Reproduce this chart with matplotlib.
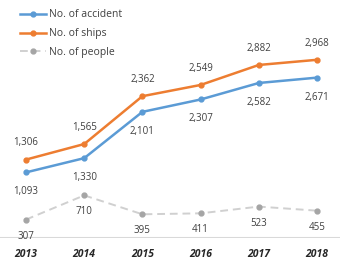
import matplotlib
matplotlib.use("Agg")
from matplotlib import pyplot as plt

years = ["2013", "2014", "2015", "2016", "2017", "2018"]
accidents = [1093, 1330, 2101, 2307, 2582, 2671]
ships = [1306, 1565, 2362, 2549, 2882, 2968]
people = [307, 710, 395, 411, 523, 455]

plt.rcParams["font.family"] = ["Open Sans", "DejaVu Sans"]

fig = plt.figure(figsize=(3.4, 2.64), dpi=100)
ax = fig.add_axes([0, 26 / 264, 1, 238 / 264])

x = list(range(len(years)))
ax.plot(x, ships, color="#ED7D31", lw=1.8, marker="o", ms=3.5, label="No. of ships", zorder=3)
ax.plot(x, accidents, color="#5B9BD5", lw=1.8, marker="o", ms=3.5, label="No. of accident", zorder=3)
ax.plot(x, people, color="#D0D0D0", lw=1.4, ls=(0, (4, 2.5)), marker="o", ms=3.5,
        mfc="#A5A5A5", mec="#A5A5A5", label="No. of people", zorder=3)

lab = dict(fontsize=7, color="#404040", ha="center")
for i in x:
    ax.annotate(f"{ships[i]:,}", (i, ships[i]), xytext=(0, 8), textcoords="offset points", va="bottom", **lab)
    ax.annotate(f"{accidents[i]:,}", (i, accidents[i]), xytext=(0, -10), textcoords="offset points", va="top", **lab)
    ax.annotate(f"{people[i]:,}", (i, people[i]), xytext=(0, -8), textcoords="offset points", va="top", **lab)

ax.set_xlim(-0.447, 5.395)
ax.set_ylim(0, 3964)
ax.axhline(0, color="#D9D9D9", lw=1.5, zorder=1)
for s in ax.spines.values():
    s.set_visible(False)
ax.set_yticks([])
ax.set_xticks([])
for i, y in enumerate(years):
    ax.text(i, -0.045, y, transform=ax.get_xaxis_transform(), ha="center", va="top",
            fontsize=7.5, fontweight="bold", fontstyle="italic", color="#262626")

h, l = ax.get_legend_handles_labels()
order = [1, 0, 2]
ax.legend([h[k] for k in order], [l[k] for k in order], loc="upper left",
          bbox_to_anchor=(0.03, 1.0), frameon=False, fontsize=7.5, handlelength=2.5,
          labelspacing=0.75, handletextpad=0.3, labelcolor="#404040")

fig.savefig("out.png", dpi=100)
